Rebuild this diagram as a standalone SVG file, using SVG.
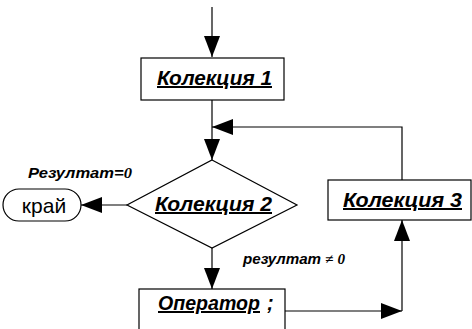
<svg xmlns="http://www.w3.org/2000/svg" width="472" height="329" viewBox="0 0 472 329">
<defs>
<style>
.box{fill:#fff;stroke:#000;stroke-width:1.2}
.lbl{font-family:"Liberation Sans",Arial,sans-serif;font-weight:bold;font-style:italic;font-size:20px;fill:#000}
.u{text-decoration:underline}
.note{font-family:"Liberation Sans",Arial,sans-serif;font-weight:bold;font-style:italic;font-size:14px;fill:#000}
.ser{font-family:"Liberation Serif","Times New Roman",serif;font-weight:bold;font-style:italic}
.con{fill:none;stroke:#000;stroke-width:1.2}
</style>
<marker id="ah" markerUnits="userSpaceOnUse" markerWidth="22" markerHeight="16" viewBox="0 0 22 16" refX="21" refY="8" orient="auto">
<path d="M0,0 L21,8 L0,16 Z" fill="#000"/>
</marker>
</defs>
<g id="connectors">
<path class="con" d="M212,7 V57" marker-end="url(#ah)"/>
<path class="con" d="M212,100 V160" marker-end="url(#ah)"/>
<path class="con" d="M402,180 V127 H212" marker-end="url(#ah)"/>
<path class="con" d="M127,205 H81" marker-end="url(#ah)"/>
<path class="con" d="M212,248 V289" marker-end="url(#ah)"/>
<path class="con" d="M285,311 H402" marker-end="url(#ah)"/>
<path class="con" d="M402,311 V220" marker-end="url(#ah)"/>
</g>
<g id="kol1">
<rect class="box" x="141" y="58" width="143" height="42"/>
<text class="lbl u" x="157" y="85" textLength="115" lengthAdjust="spacingAndGlyphs">Колекция 1</text>
</g>
<g id="kol2">
<polygon class="box" points="212,160 297,205 212,248 127,205"/>
<text class="lbl u" x="155" y="211" textLength="117" lengthAdjust="spacingAndGlyphs">Колекция 2</text>
</g>
<g id="kraj">
<rect class="box" x="3" y="189" width="78" height="32" rx="16" ry="16"/>
<text x="44" y="213" style="font-family:'Liberation Sans',Arial,sans-serif;font-size:21px;text-anchor:middle">край</text>
</g>
<g id="kol3">
<rect class="box" x="328" y="180" width="143" height="40"/>
<text class="lbl u" x="343" y="207" textLength="119" lengthAdjust="spacingAndGlyphs">Колекция 3</text>
</g>
<g id="oper">
<rect class="box" x="139" y="289" width="146" height="50"/>
<text class="lbl u" x="158" y="310" textLength="102" lengthAdjust="spacingAndGlyphs">Оператор</text>
<text class="lbl" x="267" y="310">;</text>
</g>
<g id="labels">
<text class="note" x="28" y="178" textLength="104" lengthAdjust="spacingAndGlyphs">Резултат=<tspan class="ser">0</tspan></text>
<text class="note" x="243" y="264" textLength="102" lengthAdjust="spacingAndGlyphs">резултат <tspan class="ser">≠ 0</tspan></text>
</g>
</svg>
